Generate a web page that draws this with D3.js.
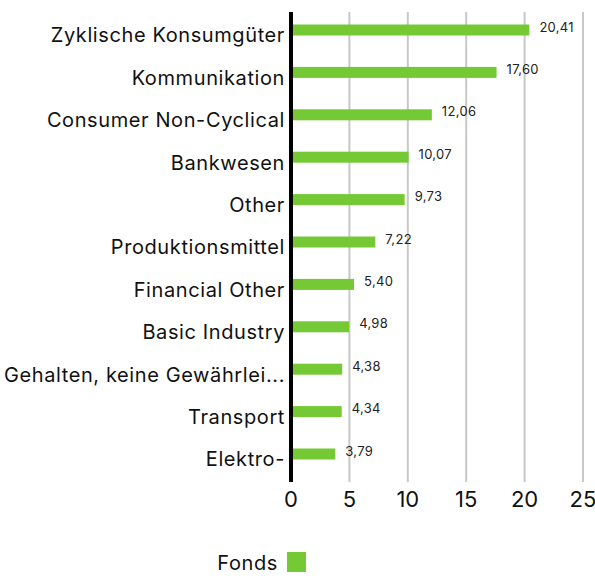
<!DOCTYPE html>
<html>
<head>
<meta charset="utf-8">
<script src="https://cdn.jsdelivr.net/npm/d3@7"></script>
<style>
  body { margin: 0; background: #fff; }
  svg { display: block; font-family: "Inter", "Open Sans", sans-serif; }
</style>
</head>
<body>
<div id="chart"></div>
<script>
const categories = [
  "Zyklische Konsumgüter", "Kommunikation", "Consumer Non-Cyclical", "Bankwesen",
  "Other", "Produktionsmittel", "Financial Other", "Basic Industry",
  "Gehalten, keine Gewährlei...", "Transport", "Elektro-"
];
const values = [20.41, 17.60, 12.06, 10.07, 9.73, 7.22, 5.40, 4.98, 4.38, 4.34, 3.79];
const xTicks = [0, 5, 10, 15, 20, 25];
const seriesName = "Fonds";

const W = 595, H = 576;
const GREEN = "#74c935";
const fmt = v => d3.format(".2f")(v).replace(".", ",");

const svg = d3.select("#chart").append("svg")
  .attr("width", W).attr("height", H).attr("viewBox", `0 0 ${W} ${H}`);

const x = d3.scaleLinear().domain([0, 25]).range([291, 583]);
const y = d3.scaleBand().domain(categories).range([8.8, 475.2]).paddingInner(0);

// gridlines
svg.append("g").selectAll("line").data(xTicks.slice(1)).join("line")
  .attr("x1", d => x(d)).attr("x2", d => x(d))
  .attr("y1", 12).attr("y2", 482)
  .attr("stroke", "#c8c8c8").attr("stroke-width", 2);

// bars
const rows = categories.map((c, i) => ({ c, v: values[i] }));
svg.append("g").selectAll("rect").data(rows).join("rect")
  .attr("x", x(0)).attr("y", d => y(d.c) + y.bandwidth() / 2 - 5.5)
  .attr("width", d => x(d.v) - x(0)).attr("height", 11)
  .attr("fill", GREEN);

// value labels
svg.append("g").selectAll("text").data(rows).join("text")
  .attr("x", d => x(d.v) + 10).attr("y", d => y(d.c) + y.bandwidth() / 2 - 2)
  .attr("dominant-baseline", "middle")
  .attr("font-size", 13).attr("letter-spacing", 0.3).attr("fill", "#222")
  .text(d => fmt(d.v));

// category labels
svg.append("g").selectAll("text").data(categories).join("text")
  .attr("x", 285).attr("y", d => y(d) + y.bandwidth() / 2 + 7)
  .attr("text-anchor", "end").attr("dominant-baseline", "middle")
  .attr("font-size", 20).attr("letter-spacing", 0.6).attr("fill", "#111")
  .text(d => d);

// axis line
svg.append("line")
  .attr("x1", x(0)).attr("x2", x(0)).attr("y1", 12).attr("y2", 482)
  .attr("stroke", "#000").attr("stroke-width", 4);

// x tick labels
svg.append("g").selectAll("text").data(xTicks).join("text")
  .attr("x", d => x(d)).attr("y", 501)
  .attr("text-anchor", "middle").attr("dominant-baseline", "middle")
  .attr("font-size", 22).attr("fill", "#111")
  .text(d => d);

// legend
svg.append("text").attr("x", 278).attr("y", 565)
  .attr("text-anchor", "end").attr("dominant-baseline", "middle")
  .attr("font-size", 20).attr("letter-spacing", 0.6).attr("fill", "#111").text(seriesName);
svg.append("rect").attr("x", 287).attr("y", 552).attr("width", 19).attr("height", 20)
  .attr("fill", GREEN);
</script>
</body>
</html>
